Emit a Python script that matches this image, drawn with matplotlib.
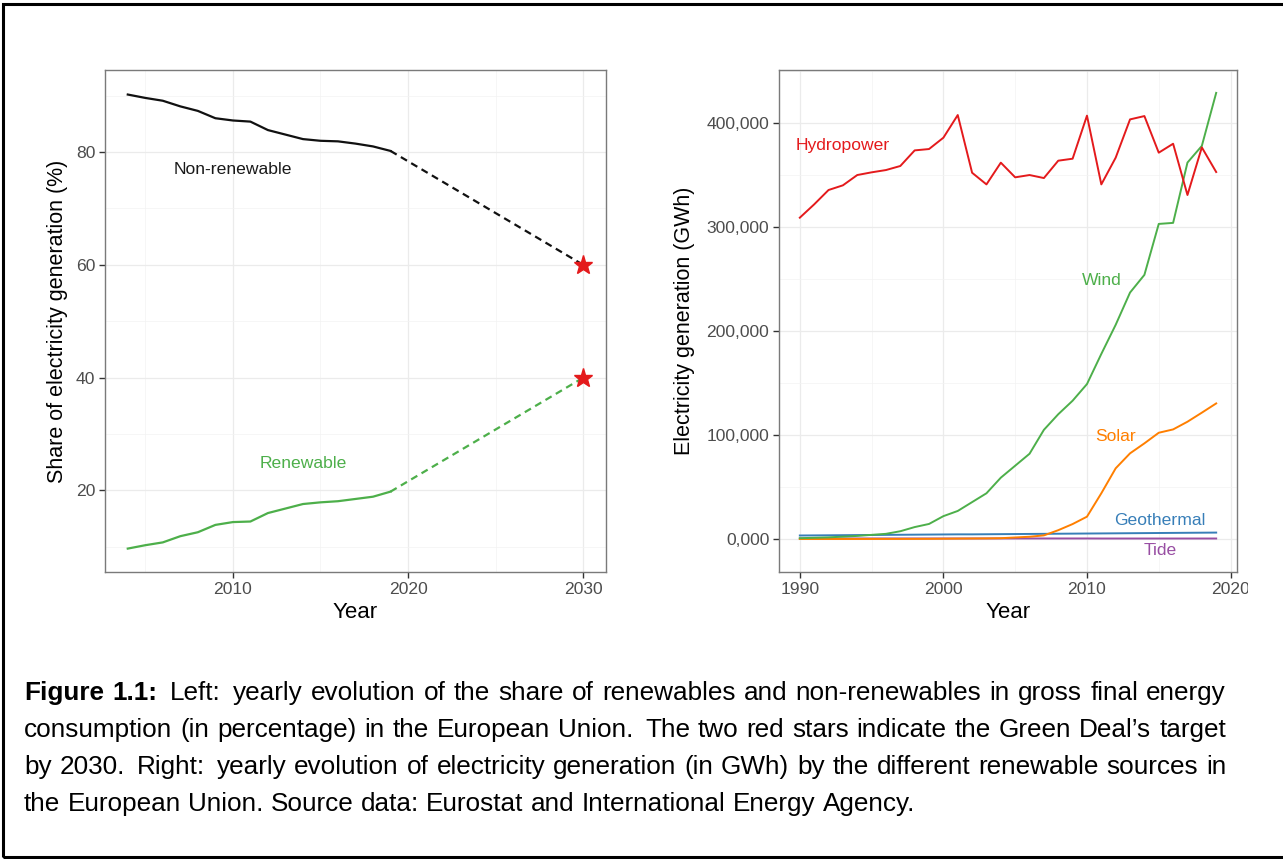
import matplotlib.pyplot as plt
import numpy as np
from matplotlib.patches import Rectangle
from matplotlib.transforms import Bbox

plt.rcParams['font.family'] = ['Liberation Sans', 'DejaVu Sans']

# ---- left panel: share of electricity generation (%)
share_years = np.arange(2004, 2020)
nonrenewable = [90.2, 89.6, 89.1, 88.1, 87.3, 86.0, 85.6, 85.4, 83.9, 83.1,
                82.3, 82.0, 81.9, 81.5, 81.0, 80.2]
renewable = [9.7, 10.3, 10.8, 11.9, 12.6, 13.9, 14.4, 14.5, 16.0, 16.8,
             17.6, 17.9, 18.1, 18.5, 18.9, 19.8]
target_year = 2030
target_nonrenewable = 60
target_renewable = 40

# ---- right panel: electricity generation (GWh)
gen_years = np.arange(1990, 2020)
hydropower = [309000, 321800, 335600, 340100, 350000, 352600, 354800, 358700,
              373700, 375000, 385900, 407700, 352200, 341000, 361900, 347800,
              350000, 347100, 363800, 365700, 407100, 341000, 366700, 403500,
              406700, 371500, 380100, 330800, 376600, 352900]
wind = [800, 1200, 1600, 2300, 3000, 4000, 5000, 7500, 11500, 14500,
        22000, 27000, 35500, 44000, 59000, 70500, 82000, 105000, 120000, 133000,
        149000, 178000, 206000, 237000, 254000, 303000, 304000, 362000, 378000, 429000]
solar = [10, 20, 30, 40, 60, 80, 100, 120, 150, 200,
         300, 400, 500, 600, 800, 1500, 2200, 3500, 8500, 14400,
         21500, 44000, 68000, 82400, 92000, 102200, 105400, 112800, 121500, 130400]
geothermal = [3400, 3500, 3600, 3700, 3800, 3900, 4000, 4100, 4200, 4300,
              4400, 4500, 4500, 4600, 4700, 4800, 4900, 5000, 5100, 5200,
              5300, 5400, 5500, 5600, 5700, 5800, 5900, 6000, 6100, 6200]
tide = [550, 550, 550, 550, 550, 550, 550, 550, 550, 550,
        550, 550, 550, 550, 550, 550, 550, 550, 550, 550,
        550, 500, 500, 500, 500, 500, 500, 500, 500, 500]
gen_ticks = [0, 100000, 200000, 300000, 400000]
gen_ticklabels = ['0,000', '100,000', '200,000', '300,000', '400,000']

RED = '#E41A1C'
GREEN = '#4DAF4A'
ORANGE = '#FF7F00'
BLUE = '#377EB8'
PURPLE = '#984EA3'

W, H = 1283, 859
fig = plt.figure(figsize=(W / 100, H / 100), dpi=100)


def style(ax):
    ax.set_facecolor('white')
    ax.grid(True, which='major', color='#EBEBEB', lw=0.9, zorder=0)
    ax.grid(True, which='minor', color='#F3F3F3', lw=0.5, zorder=0)
    ax.set_axisbelow(True)
    for s in ax.spines.values():
        s.set_color('#7A7A7A')
        s.set_linewidth(1.0)
    ax.tick_params(which='major', length=4, width=1.0, color='#333333',
                   labelcolor='#4D4D4D', labelsize=12.6, pad=3)
    ax.tick_params(which='minor', length=0)


# left panel
ax1 = fig.add_axes([105 / W, 1 - 572 / H, 501 / W, 502 / H])
style(ax1)
ax1.plot(share_years, nonrenewable, color='#111111', lw=1.6, zorder=3)
ax1.plot(share_years, renewable, color=GREEN, lw=1.6, zorder=3)
ax1.plot([share_years[-1], target_year], [nonrenewable[-1], target_nonrenewable],
         color='#111111', lw=1.6, dashes=[3.2, 2.2], zorder=3)
ax1.plot([share_years[-1], target_year], [renewable[-1], target_renewable],
         color=GREEN, lw=1.6, dashes=[3.2, 2.2], zorder=3)
ax1.plot([target_year, target_year], [target_nonrenewable, target_renewable],
         ls='none', marker='*', ms=14, color=RED, mec=RED, zorder=4)
ax1.text(2010, 76.9, 'Non-renewable', color='#1A1A1A', fontsize=12.6,
         ha='center', va='center')
ax1.text(2014, 24.8, 'Renewable', color=GREEN, fontsize=12.6,
         ha='center', va='center')
ax1.set_xlim(2002.7, 2031.3)
ax1.set_ylim(5.55, 94.55)
ax1.set_xticks([2010, 2020, 2030])
ax1.set_xticks([2005, 2015, 2025], minor=True)
ax1.set_yticks([20, 40, 60, 80])
ax1.set_yticks([10, 30, 50, 70, 90], minor=True)
ax1.set_xlabel('Year', fontsize=16, color='black', labelpad=4)
ax1.set_ylabel('Share of electricity generation (%)', fontsize=15.5,
               color='black', labelpad=6)

# right panel
ax2 = fig.add_axes([779 / W, 1 - 572 / H, 458 / W, 502 / H])
style(ax2)
ax2.plot(gen_years, tide, color=PURPLE, lw=1.4, zorder=3)
ax2.plot(gen_years, geothermal, color=BLUE, lw=1.4, zorder=3)
ax2.plot(gen_years, solar, color=ORANGE, lw=1.4, zorder=3)
ax2.plot(gen_years, wind, color=GREEN, lw=1.4, zorder=3)
ax2.plot(gen_years, hydropower, color=RED, lw=1.4, zorder=3)
ax2.text(1993.0, 378000, 'Hydropower', color=RED, fontsize=12.6, ha='center', va='center')
ax2.text(2011.0, 249000, 'Wind', color=GREEN, fontsize=12.6, ha='center', va='center')
ax2.text(2012.0, 98400, 'Solar', color=ORANGE, fontsize=12.6, ha='center', va='center')
ax2.text(2015.1, 18300, 'Geothermal', color=BLUE, fontsize=12.6, ha='center', va='center')
ax2.text(2015.1, -11200, 'Tide', color=PURPLE, fontsize=12.6, ha='center', va='center')
ax2.set_xlim(1988.55, 2020.45)
ax2.set_ylim(-31700, 451000)
ax2.set_xticks([1990, 2000, 2010, 2020])
ax2.set_xticks([1995, 2005, 2015], minor=True)
ax2.set_yticks(gen_ticks)
ax2.set_yticklabels(gen_ticklabels)
ax2.set_yticks([50000, 150000, 250000, 350000, 450000], minor=True)
ax2.set_xlabel('Year', fontsize=16, color='black', labelpad=4)
ax2.set_ylabel('Electricity generation (GWh)', fontsize=15.5,
               color='black', labelpad=8)

# clip the last tick label like the cropped original
clip = Bbox.from_extents(0, 0, 1248, H)
for lab in ax2.get_xticklabels():
    lab.set_clip_box(clip)
    lab.set_clip_on(True)

# outer frame
fig.add_artist(Rectangle((3 / W, 1 - 857 / H), 1.5, (857 - 4) / H,
                         transform=fig.transFigure, fill=False,
                         edgecolor='black', lw=2.2, clip_on=False))

# caption, justified like the LaTeX source
cap_size = 18.8
cap_lines = [
    "Figure 1.1: Left: yearly evolution of the share of renewables and non-renewables in gross final energy",
    "consumption (in percentage) in the European Union.  The two red stars indicate the Green Deal\u2019s target",
    "by 2030.  Right: yearly evolution of electricity generation (in GWh) by the different renewable sources in",
    "the European Union. Source data: Eurostat and International Energy Agency.",
]
cap_left, cap_right = 24, 1226
baselines = [700, 737, 774, 811]

fig.canvas.draw()
renderer = fig.canvas.get_renderer()


def text_width(s, weight):
    t = fig.text(0, 0, s, fontsize=cap_size, fontweight=weight)
    w = t.get_window_extent(renderer).width
    t.remove()
    return w


space_w = text_width('a a', 'normal') - text_width('aa', 'normal')
for i, line in enumerate(cap_lines):
    words = line.split()
    weights = ['bold' if i == 0 and j < 2 else 'normal' for j in range(len(words))]
    widths = [text_width(w, wt) for w, wt in zip(words, weights)]
    if i < len(cap_lines) - 1:
        stretch = [1.5 if w.endswith('.') or w.endswith(':') else 1.0 for w in words[:-1]]
        gap = (cap_right - cap_left - sum(widths)) / sum(stretch)
        gaps = [gap * s for s in stretch]
    else:
        gaps = [space_w] * (len(words) - 1)
    x = cap_left
    for j, (w, wt) in enumerate(zip(words, weights)):
        fig.text(x / W, 1 - baselines[i] / H, w, fontsize=cap_size, fontweight=wt,
                 ha='left', va='baseline', color='black')
        x += widths[j] + (gaps[j] if j < len(gaps) else 0)

fig.savefig('out.png', dpi=100, facecolor='white')
